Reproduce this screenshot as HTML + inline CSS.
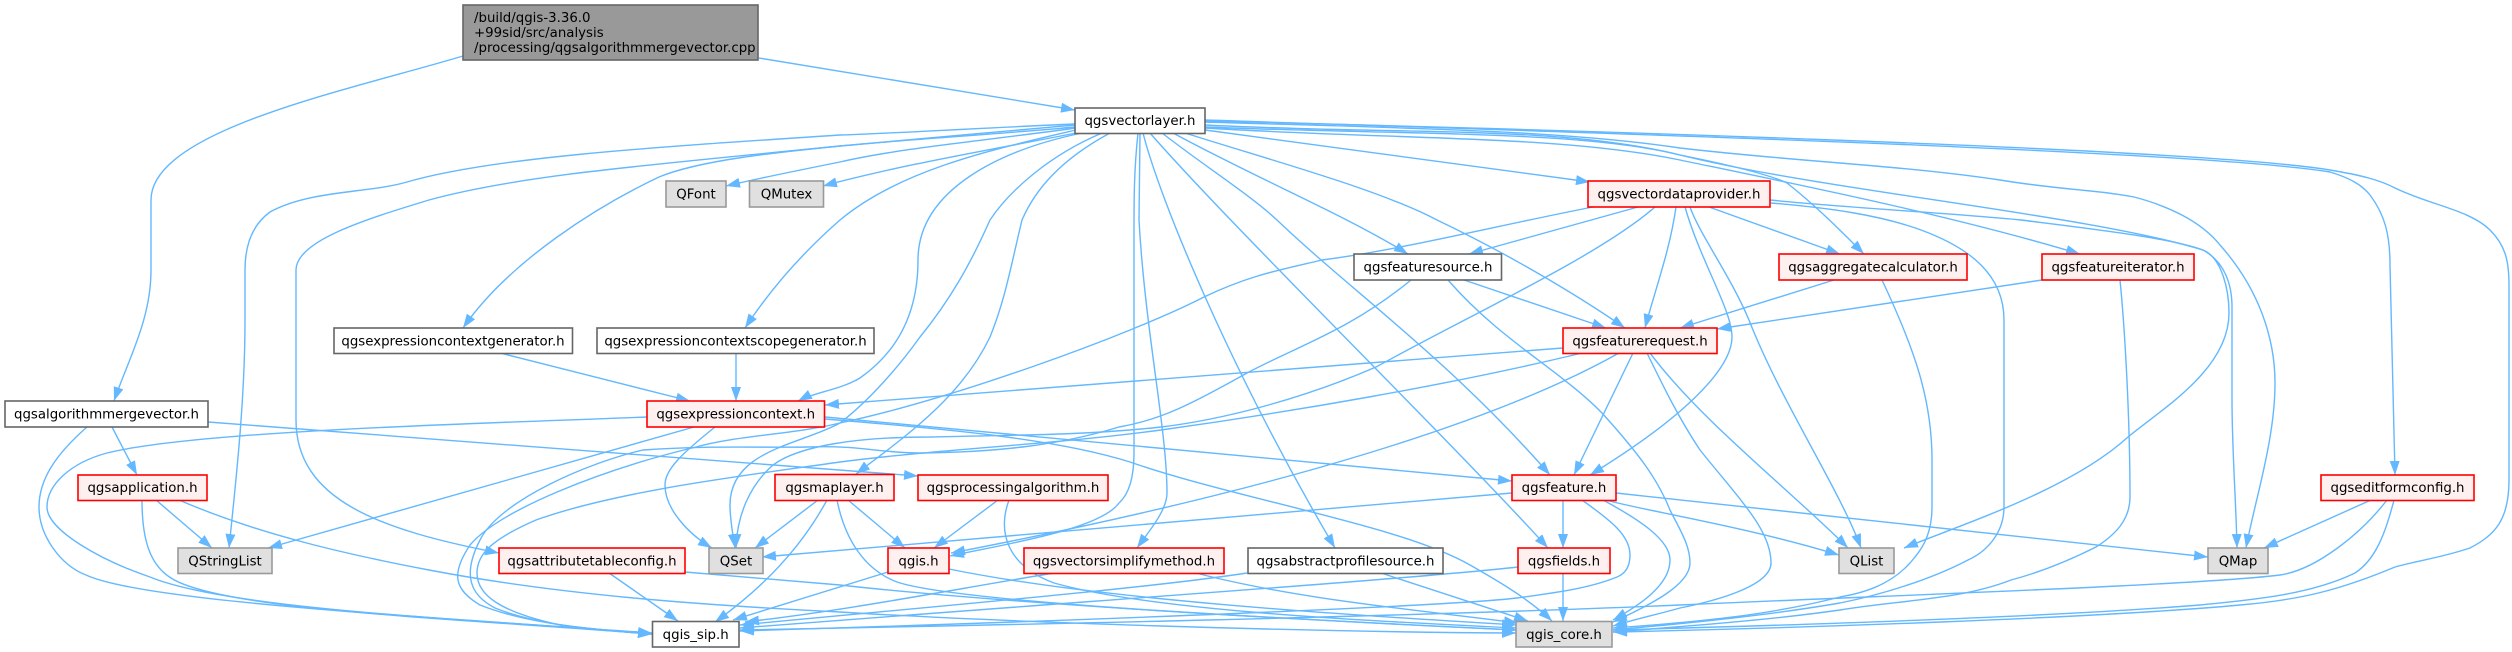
<!DOCTYPE html>
<html>
<head>
<meta charset="utf-8">
<title>Include dependency graph</title>
<style>
html,body{margin:0;padding:0;background:#fff;}
svg{display:block;}
.e path{fill:none;stroke:#63b8ff;stroke-width:1.4;marker-end:url(#a);}
text{font-family:"DejaVu Sans",sans-serif;font-size:13.33px;fill:#000;text-anchor:middle;}
.w{fill:#fff;stroke:#666;stroke-width:1.6;}
.r{fill:#fff0f0;stroke:#f00;stroke-width:1.6;}
.g{fill:#e0e0e0;stroke:#999;stroke-width:1.6;}
</style>
</head>
<body>
<svg xmlns="http://www.w3.org/2000/svg" width="2512" height="652" viewBox="0 0 2512 652">
<defs>
<marker id="a" markerUnits="userSpaceOnUse" markerWidth="15" markerHeight="11" refX="14" refY="5" orient="auto">
<path d="M0,0 L14,5 L0,10 Z" fill="#63b8ff"/>
</marker>
</defs>
<g class="e">
<path d="M463,56 C350,90 151,130 151,200 L151,270 C151,320 128,360 114,401"/>
<path d="M759,58 L1075,110"/>
<path d="M1076,128 C990,140 900,148 840,162 C800,170 760,178 726,186"/>
<path d="M1076,133 C990,150 900,165 823,186"/>
<path d="M1075,124 C980,128 880,134 840,135 C640,148 490,158 407,182 C370,193 310,190 270,212 C252,225 245,245 245,270 L245,320 C245,400 236,480 229,548"/>
<path d="M1075,125 C1000,132 900,140 840,146 C650,165 520,175 429,200 C370,218 296,240 296,270 L296,420 C296,500 380,530 499,553"/>
<path d="M1075,127 C1000,134 900,140 840,146 C780,152 700,160 659,177 C600,205 510,260 463,328"/>
<path d="M1076,130 C990,150 900,170 840,220 C800,255 770,290 745,328"/>
<path d="M1082,133 C1000,150 918,190 918,260 C918,310 900,350 860,378 C840,390 815,392 798,401"/>
<path d="M1102,133 C1050,155 1010,190 990,220 C970,265 950,300 920,337 C900,365 870,400 840,423 C800,445 730,450 730,505 C730,520 733,535 735,548"/>
<path d="M1110,133 C1060,160 1035,190 1022,220 C1010,270 1005,300 990,337 C960,400 900,440 856,474"/>
<path d="M1138,133 C1134,170 1134,200 1134,230 L1134,453 C1134,480 1128,495 1119,503 C1100,530 1000,545 950,556"/>
<path d="M1140,133 L1139,220 C1145,330 1167,430 1167,493 C1167,510 1150,530 1137,548"/>
<path d="M1143,133 C1160,200 1230,370 1335,548"/>
<path d="M1150,133 C1230,225 1450,440 1548,548"/>
<path d="M1162,133 C1210,170 1250,195 1277,220 C1350,290 1450,360 1550,475"/>
<path d="M1173,133 C1260,180 1345,215 1408,254"/>
<path d="M1185,133 C1280,163 1380,190 1437,220 C1500,250 1570,290 1625,328"/>
<path d="M1205,130 L1590,182"/>
<path d="M1205,127 C1400,135 1580,130 1680,155 C1730,165 1770,175 1787,183 C1815,205 1840,230 1864,254"/>
<path d="M1205,128 C1400,140 1560,135 1680,160 C1800,185 1950,215 2080,254"/>
<path d="M1205,125 C1400,135 1560,125 1680,155 C1820,190 2090,215 2203,250 C2222,258 2229,290 2229,313 C2229,370 2160,410 2128,437 C2070,490 1960,525 1904,548"/>
<path d="M1205,122 C1400,128 1560,130 1680,148 C1800,162 1900,165 2000,180 C2060,190 2100,190 2134,197 C2165,205 2200,220 2220,245 C2260,290 2275,340 2275,383 C2275,440 2255,500 2246,548"/>
<path d="M1205,120 C1500,130 2200,150 2330,172 C2350,178 2362,185 2370,195 C2385,215 2390,235 2390,265 L2395,475"/>
<path d="M1205,121 C1500,128 2200,148 2330,170 C2360,175 2380,180 2395,188 C2430,205 2470,210 2490,230 C2505,245 2509,260 2509,285 L2509,480 C2509,520 2495,535 2470,548 C2440,558 2420,560 2395,567 C2340,590 2300,600 2240,605 C2100,618 1800,628 1613,632"/>
<path d="M2394,500 C2385,535 2375,560 2355,573 C2310,595 2250,600 2200,605 C2050,617 1800,625 1613,630"/>
<path d="M2387,500 C2360,535 2315,570 2280,575 C2200,585 1900,595 1680,605 C1400,617 1000,625 740,630"/>
<path d="M2371,500 L2264,548"/>
<path d="M1770,200 C1850,208 1950,213 2021,220 C2100,230 2170,238 2203,250 C2225,262 2232,285 2232,307 L2232,400 C2232,450 2236,500 2237,548"/>
<path d="M1771,203 C1830,208 1880,215 1921,230 C1970,248 2004,275 2004,320 L2004,507 C2004,530 1990,550 1968,560 C1930,580 1880,595 1840,603 C1770,615 1700,622 1613,630"/>
<path d="M1690,207 C1700,235 1730,275 1749,320 C1780,400 1840,490 1861,548"/>
<path d="M1685,207 C1700,260 1732,310 1732,337 C1732,370 1680,420 1590,475"/>
<path d="M1709,207 L1840,254"/>
<path d="M1638,207 L1469,254"/>
<path d="M1676,207 C1670,250 1655,290 1645,328"/>
<path d="M1593,207 C1500,225 1400,250 1322,260 C1280,270 1250,275 1204,297 C1130,335 950,400 840,423 C790,435 740,435 696,447 C600,470 500,510 470,545 C450,575 455,590 480,605 C530,625 600,630 652,634"/>
<path d="M1655,207 C1600,255 1480,310 1376,367 C1300,400 1220,420 1161,427 C1080,436 1000,435 930,437 C860,437 800,445 773,465 C750,485 737,515 736,548"/>
<path d="M1464,280 L1606,328"/>
<path d="M1411,280 C1350,330 1300,345 1247,373 C1190,405 1160,420 1119,427 C1060,445 1000,452 920,453 C880,453 860,445 807,447 C760,448 720,445 643,450 C590,462 500,500 480,540 C462,575 470,595 495,608 C540,626 600,630 652,634"/>
<path d="M1448,280 C1500,340 1560,370 1602,413 C1640,455 1658,480 1670,510 C1680,530 1690,545 1690,563 C1690,585 1650,605 1613,622"/>
<path d="M1563,348 L825,405"/>
<path d="M1582,353 C1450,385 1290,412 1161,430 C1050,445 950,448 840,462 C750,475 620,490 536,520 C490,540 477,555 477,573 C477,595 500,612 560,625 C600,630 620,632 652,634"/>
<path d="M1619,353 C1500,420 1280,490 951,553"/>
<path d="M1633,353 L1574,475"/>
<path d="M1650,353 C1700,420 1790,490 1848,548"/>
<path d="M1647,353 C1665,390 1680,420 1700,450 C1740,500 1771,530 1771,563 C1771,585 1720,600 1680,608 C1655,615 1640,618 1613,626"/>
<path d="M1834,280 L1680,328"/>
<path d="M1882,280 C1915,350 1932,400 1932,460 L1932,507 C1932,530 1925,545 1915,557 C1890,590 1850,595 1840,597 C1770,615 1700,622 1613,628"/>
<path d="M2042,280 L1717,329"/>
<path d="M2120,280 C2125,330 2130,420 2130,497 C2130,520 2115,535 2096,547 C2060,565 2030,575 2011,580 C1960,600 1900,600 1840,610 C1770,620 1700,625 1613,632"/>
<path d="M334,340 L334,340" style="display:none"/>
<path d="M500,353 L690,401"/>
<path d="M736,353 L736,401"/>
<path d="M208,422 L918,476"/>
<path d="M87,427 C55,455 39,480 39,507 C39,535 60,565 86,575 C150,605 500,620 652,634"/>
<path d="M112,427 L137,475"/>
<path d="M156,500 L212,548"/>
<path d="M142,500 C142,540 150,565 171,578 C220,610 450,618 652,634"/>
<path d="M179,500 C260,535 350,555 429,570 C560,595 700,605 840,612 C1000,622 1300,632 1516,633"/>
<path d="M647,417 C500,423 200,430 107,453 C70,463 47,485 47,507 C47,530 100,560 150,577 C230,610 480,620 652,633"/>
<path d="M694,427 L268,548"/>
<path d="M715,427 C680,455 665,470 665,485 C665,510 690,535 712,548"/>
<path d="M825,417 L1512,481"/>
<path d="M825,419 C960,430 1060,440 1130,462 C1240,500 1400,525 1470,565 C1500,582 1530,600 1552,621"/>
<path d="M818,500 L755,548"/>
<path d="M827,500 C800,550 760,590 715,622"/>
<path d="M848,500 L905,548"/>
<path d="M837,500 C845,540 865,570 897,582 C950,600 1200,615 1516,630"/>
<path d="M998,500 L934,548"/>
<path d="M1009,500 C998,530 1005,565 1054,583 C1150,610 1350,620 1516,628"/>
<path d="M1512,493 L762,557"/>
<path d="M1616,493 L2208,557"/>
<path d="M1606,500 C1640,510 1740,525 1839,555"/>
<path d="M1563,500 L1563,548"/>
<path d="M1603,500 C1640,520 1670,540 1670,560 C1670,585 1640,605 1613,620"/>
<path d="M1582,500 C1610,520 1630,535 1630,555 C1630,570 1622,575 1617,577 C1590,588 1560,592 1517,598 C1450,606 1100,620 740,631"/>
<path d="M1563,573 L1563,621"/>
<path d="M1518,567 C1400,580 1100,600 740,628"/>
<path d="M1247,573 C1150,588 950,605 740,625"/>
<path d="M1381,573 L1528,621"/>
<path d="M1054,573 C950,590 850,610 745,622"/>
<path d="M1196,573 C1300,600 1420,610 1518,623"/>
<path d="M888,572 L733,620"/>
<path d="M949,569 C1100,600 1350,615 1516,625"/>
<path d="M609,573 L678,621"/>
<path d="M685,572 L840,585 C1000,603 1300,620 1516,630"/>
</g>
<g>
<rect class="w" style="fill:#999" x="463" y="5" width="295" height="55"/>
<text x="474" y="22" style="text-anchor:start">/build/qgis-3.36.0</text>
<text x="474" y="37" style="text-anchor:start">+99sid/src/analysis</text>
<text x="474" y="52" style="text-anchor:start">/processing/qgsalgorithmmergevector.cpp</text>

<rect class="w" x="1075" y="108" width="130" height="25.5"/><text x="1140" y="125">qgsvectorlayer.h</text>

<rect class="g" x="666" y="181" width="60" height="26"/><text x="696" y="198.5">QFont</text>
<rect class="g" x="749.5" y="181" width="74" height="26"/><text x="786.5" y="198.5">QMutex</text>
<rect class="r" x="1588" y="181" width="182" height="26"/><text x="1679" y="198.5">qgsvectordataprovider.h</text>

<rect class="w" x="1354" y="254" width="147.5" height="26"/><text x="1428" y="271.5">qgsfeaturesource.h</text>
<rect class="r" x="1779" y="254" width="188" height="26"/><text x="1873" y="271.5">qgsaggregatecalculator.h</text>
<rect class="r" x="2042" y="254" width="152" height="26"/><text x="2118" y="271.5">qgsfeatureiterator.h</text>

<rect class="w" x="334" y="328" width="238.5" height="25.5"/><text x="453" y="345.5">qgsexpressioncontextgenerator.h</text>
<rect class="w" x="597" y="328" width="277" height="25.5"/><text x="735.5" y="345.5">qgsexpressioncontextscopegenerator.h</text>
<rect class="r" x="1563" y="328" width="154" height="25.5"/><text x="1640" y="345.5">qgsfeaturerequest.h</text>

<rect class="w" x="5" y="401" width="203" height="26"/><text x="106.5" y="418.5">qgsalgorithmmergevector.h</text>
<rect class="r" x="647" y="401" width="177.5" height="26"/><text x="735.7" y="418.5">qgsexpressioncontext.h</text>

<rect class="r" x="78" y="475" width="129" height="25.5"/><text x="142.5" y="492">qgsapplication.h</text>
<rect class="r" x="775" y="474.5" width="119" height="26"/><text x="834.5" y="492">qgsmaplayer.h</text>
<rect class="r" x="918" y="475" width="190" height="25.5"/><text x="1013" y="492">qgsprocessingalgorithm.h</text>
<rect class="r" x="1512" y="475" width="104" height="25.5"/><text x="1564" y="492">qgsfeature.h</text>
<rect class="r" x="2321" y="475" width="153" height="25.5"/><text x="2397.5" y="492">qgseditformconfig.h</text>

<rect class="g" x="178" y="548" width="94" height="25.5"/><text x="225" y="565.5">QStringList</text>
<rect class="r" x="499" y="548" width="186" height="25.5"/><text x="592" y="565.5">qgsattributetableconfig.h</text>
<rect class="g" x="709" y="548" width="54" height="25.5"/><text x="736" y="565.5">QSet</text>
<rect class="r" x="888" y="548" width="61" height="25.5"/><text x="918.5" y="565.5">qgis.h</text>
<rect class="r" x="1024" y="548" width="200" height="25.5"/><text x="1124" y="565.5">qgsvectorsimplifymethod.h</text>
<rect class="w" x="1248" y="548" width="195" height="25.5"/><text x="1345.5" y="565.5">qgsabstractprofilesource.h</text>
<rect class="r" x="1518" y="548" width="92" height="25.5"/><text x="1564" y="565.5">qgsfields.h</text>
<rect class="g" x="1839" y="548" width="55" height="25.5"/><text x="1866.5" y="565.5">QList</text>
<rect class="g" x="2208" y="548" width="60" height="25.5"/><text x="2238" y="565.5">QMap</text>

<rect class="w" x="652.5" y="621.5" width="86.5" height="25.5"/><text x="695.7" y="639">qgis_sip.h</text>
<rect class="g" x="1516" y="621.5" width="96" height="25.5"/><text x="1564" y="639">qgis_core.h</text>
</g>
</svg>
</body>
</html>
